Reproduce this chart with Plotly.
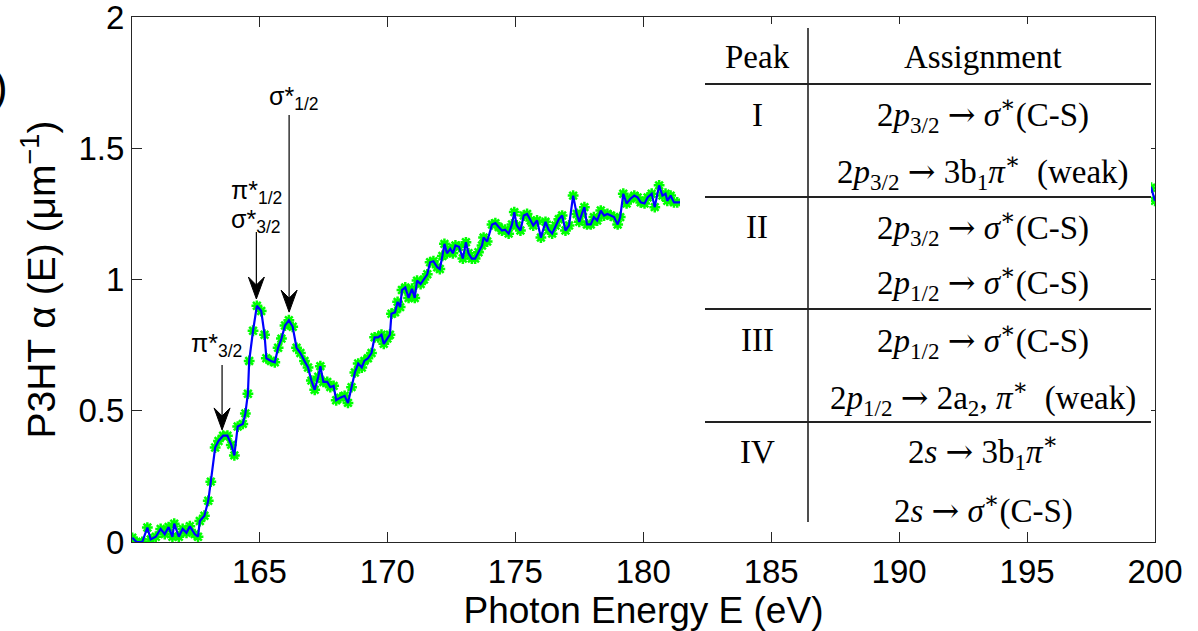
import plotly.graph_objects as go

# ---------------- data ----------------
energy = [160.03, 160.2, 160.42, 160.62, 160.75, 160.95, 161.14, 161.3, 161.45, 161.6,
          161.67, 161.85, 162.0, 162.15, 162.28, 162.47, 162.6, 162.67, 162.85, 163.0,
          163.1, 163.27, 163.4, 163.58, 163.75, 163.9, 164.02, 164.15, 164.35, 164.45,
          164.55, 164.6, 164.75, 164.9, 165.07, 165.2, 165.27, 165.45, 165.6, 165.73,
          165.86, 166.0, 166.15, 166.3, 166.45, 166.6, 166.76, 166.9, 167.03, 167.16,
          167.3, 167.38, 167.5, 167.65, 167.77, 167.9, 168.0, 168.16, 168.33, 168.46,
          168.6, 168.73, 168.86, 169.0, 169.1, 169.24, 169.38, 169.5, 169.64, 169.77,
          169.86, 170.0, 170.1, 170.16, 170.3, 170.4, 170.5, 170.57, 170.7, 170.83,
          170.96, 171.07, 171.16, 171.3, 171.43, 171.56, 171.67, 171.8, 171.95, 172.05,
          172.15, 172.23, 172.33, 172.46, 172.56, 172.66, 172.8, 172.95, 173.07, 173.17,
          173.3, 173.43, 173.56, 173.7, 173.76, 173.9, 174.09, 174.22, 174.35, 174.48,
          174.6, 174.74, 174.87, 174.96, 175.06, 175.2, 175.33, 175.46, 175.6, 175.7,
          175.85, 176.0, 176.18, 176.3, 176.44, 176.57, 176.7, 176.83, 176.96, 177.1,
          177.26, 177.4, 177.5, 177.6, 177.7, 177.8, 177.95, 178.07, 178.2, 178.34,
          178.47, 178.6, 178.73, 178.86, 179.0, 179.1, 179.22, 179.35, 179.5, 179.65,
          179.78, 179.9, 180.05, 180.17, 180.33, 180.45, 180.62, 180.75, 180.87, 180.94,
          181.07, 181.2, 181.33, 199.85, 200.0]
alpha = [0.016, 0.0, 0.0, 0.055, 0.01, 0.02, 0.05, 0.03, 0.057, 0.02,
         0.07, 0.02, 0.05, 0.035, 0.06, 0.03, 0.02, 0.08, 0.1, 0.157,
         0.23, 0.36, 0.385, 0.405, 0.405, 0.37, 0.33, 0.44, 0.45, 0.49,
         0.565, 0.69, 0.805, 0.9, 0.88, 0.79, 0.70, 0.69, 0.685, 0.74,
         0.775, 0.825, 0.845, 0.82, 0.74, 0.72, 0.69, 0.665, 0.615, 0.58,
         0.63, 0.67, 0.61, 0.61, 0.59, 0.595, 0.54, 0.55, 0.557, 0.53,
         0.59, 0.646, 0.68, 0.665, 0.69, 0.70, 0.72, 0.78, 0.78, 0.79,
         0.755, 0.775, 0.79, 0.87, 0.875, 0.915, 0.895, 0.96, 0.97, 0.93,
         0.965, 0.93, 0.996, 0.983, 1.0, 1.02, 1.066, 1.07, 1.047, 1.04,
         1.09, 1.136, 1.10, 1.117, 1.10, 1.13, 1.125, 1.08, 1.142, 1.10,
         1.08, 1.08, 1.104, 1.13, 1.16, 1.145, 1.21, 1.215, 1.2, 1.187,
         1.19, 1.175, 1.21, 1.257, 1.206, 1.187, 1.244, 1.25, 1.225, 1.206,
         1.225, 1.16, 1.22, 1.19, 1.175, 1.206, 1.23, 1.244, 1.187, 1.206,
         1.32, 1.25, 1.22, 1.25, 1.276, 1.21, 1.21, 1.238, 1.225, 1.263,
         1.244, 1.25, 1.244, 1.238, 1.21, 1.238, 1.327, 1.29, 1.308, 1.32,
         1.313, 1.294, 1.29, 1.313, 1.327, 1.276, 1.359, 1.32, 1.327, 1.30,
         1.32, 1.294, 1.294, 1.35, 1.30]

x_ticks = [165, 170, 175, 180, 185, 190, 195, 200]
y_ticks = [0, 0.5, 1, 1.5, 2]
y_ticktext = ["0", "0.5", "1", "1.5", "2"]

# peak annotations: arrow energy, tail value, tip value
arrow_E = [163.54, 164.88, 166.16]
arrow_tail = [0.674, 1.181, 1.627]
arrow_tip = [0.427, 0.926, 0.876]

peak_labels = ["π*<sub>3/2</sub>", "π*<sub>1/2</sub>", "σ*<sub>3/2</sub>", "σ*<sub>1/2</sub>"]
peak_label_px = [(189, 345), (229, 192), (229, 221), (267, 98)]

ARW = '<span style="font-family:DejaVu Serif">→</span>'
table_header = ["Peak", "Assignment"]
table_peaks = ["I", "II", "III", "IV"]
table_assign = [
    f"2<i>p</i><sub>3/2</sub> {ARW} <i>σ</i><sup>∗</sup>(C-S)",
    f"2<i>p</i><sub>3/2</sub> {ARW} 3b<sub>1</sub><i>π</i><sup>∗</sup>  (weak)",
    f"2<i>p</i><sub>3/2</sub> {ARW} <i>σ</i><sup>∗</sup>(C-S)",
    f"2<i>p</i><sub>1/2</sub> {ARW} <i>σ</i><sup>∗</sup>(C-S)",
    f"2<i>p</i><sub>1/2</sub> {ARW} <i>σ</i><sup>∗</sup>(C-S)",
    f"2<i>p</i><sub>1/2</sub> {ARW} 2a<sub>2</sub>, <i>π</i><sup>∗</sup>  (weak)",
    f"2<i>s</i> {ARW} 3b<sub>1</sub><i>π</i><sup>∗</sup>",
    f"2<i>s</i> {ARW} <i>σ</i><sup>∗</sup>(C-S)",
]

# ---------------- geometry ----------------
W_FIG, H_FIG = 1198, 631
L, R, T, B = 132, 1155, 17, 542
PW, PH = R - L, B - T
X0, X1 = 160.02, 200.0
Y0, Y1 = 0.0, 2.0005


def px(p):
    return (p - L) / PW


def py(p):
    return (B - p) / PH


sx = PW / (X1 - X0)   # px per eV
sy = PH / (Y1 - Y0)   # px per unit

AX_COL = "#262626"
SANS = "Liberation Sans, Arial, sans-serif"
SERIF = "Liberation Serif, Times New Roman, DejaVu Serif, serif"

fig = go.Figure()
fig.add_trace(go.Scatter(x=energy, y=alpha, mode="markers",
                         marker=dict(symbol="asterisk-open", size=9, color="#00ff00",
                                     line=dict(color="#00ff00", width=2.5)),
                         showlegend=False, hoverinfo="skip"))
fig.add_trace(go.Scatter(x=energy, y=alpha, mode="lines",
                         line=dict(color="#0000ff", width=2.2),
                         showlegend=False))

shapes = []
annotations = []

# arrows (line + MATLAB-like dart head)
hw, hl, hn = 8 / sx, 22 / sy, 14 / sy
for e, t0, t1 in zip(arrow_E, arrow_tail, arrow_tip):
    shapes.append(dict(type="line", xref="x", yref="y", x0=e, x1=e, y0=t0, y1=t1 + hn,
                       line=dict(color="black", width=1.2)))
    shapes.append(dict(type="path", xref="x", yref="y",
                       path=f"M {e},{t1} L {e - hw},{t1 + hl} L {e},{t1 + hn} L {e + hw},{t1 + hl} Z",
                       fillcolor="black", line=dict(color="black", width=1)))

for txt, (lx, ly) in zip(peak_labels, peak_label_px):
    annotations.append(dict(text=txt, xref="paper", yref="paper", x=px(lx), y=py(ly),
                            xanchor="left", yanchor="middle", showarrow=False,
                            font=dict(family=SANS, size=25, color="black")))

# table (white box over plot)
shapes.append(dict(type="rect", xref="paper", yref="paper", layer="above",
                   x0=px(680), x1=px(1151), y0=py(530), y1=py(24),
                   fillcolor="white", line=dict(width=0)))
shapes.append(dict(type="line", xref="paper", yref="paper", layer="above",
                   x0=px(808), x1=px(808), y0=py(522), y1=py(28),
                   line=dict(color="#222222", width=1.6)))
for hy in [84, 197, 309, 422]:
    shapes.append(dict(type="line", xref="paper", yref="paper", layer="above",
                       x0=px(705), x1=px(1151), y0=py(hy), y1=py(hy),
                       line=dict(color="#222222", width=1.8)))

tfont = dict(family=SERIF, size=33, color="black")
for txt, cx in zip(table_header, [757, 983]):
    annotations.append(dict(text=txt, xref="paper", yref="paper", x=px(cx), y=py(57),
                            xanchor="center", yanchor="middle", showarrow=False, font=tfont))
for txt, cy in zip(table_peaks, [115, 227, 340, 452]):
    annotations.append(dict(text=txt, xref="paper", yref="paper", x=px(757), y=py(cy),
                            xanchor="center", yanchor="middle", showarrow=False, font=tfont))
for txt, cy in zip(table_assign, [115, 172, 227, 283, 340, 397, 452, 508]):
    annotations.append(dict(text=txt, xref="paper", yref="paper", x=px(983), y=py(cy),
                            xanchor="center", yanchor="middle", showarrow=False, font=tfont))

# cut-off panel label at top-left
annotations.append(dict(text=")", xref="paper", yref="paper", x=px(10), y=py(87),
                        xanchor="right", yanchor="middle", showarrow=False,
                        font=dict(family=SANS, size=44, color="black")))

fig.update_layout(
    width=W_FIG, height=H_FIG, autosize=False,
    margin=dict(l=L, r=W_FIG - R, t=T, b=H_FIG - B, pad=0),
    paper_bgcolor="white", plot_bgcolor="white",
    font=dict(family=SANS, color="black"),
    shapes=shapes, annotations=annotations,
    xaxis=dict(range=[X0, X1], tickvals=x_ticks, ticks="inside", ticklen=10,
               tickcolor=AX_COL, showline=True, linecolor=AX_COL, linewidth=1,
               mirror="ticks", showgrid=False, zeroline=False, automargin=False,
               ticklabeloverflow="allow",
               tickfont=dict(size=33, family=SANS, color="black"),
               title=dict(text="Photon Energy E (eV)", standoff=2,
                          font=dict(size=37, family=SANS, color="black"))),
    yaxis=dict(range=[Y0, Y1], tickvals=y_ticks, ticktext=y_ticktext, ticks="inside",
               ticklen=10, tickcolor=AX_COL, showline=True, linecolor=AX_COL, linewidth=1,
               mirror="ticks", showgrid=False, zeroline=False, automargin=False,
               ticklabeloverflow="allow",
               tickfont=dict(size=33, family=SANS, color="black"),
               title=dict(text="P3HT α (E) (μm<sup>−1</sup>)", standoff=10,
                          font=dict(size=39, family=SANS, color="black"))),
)

fig.write_html("out.html")
